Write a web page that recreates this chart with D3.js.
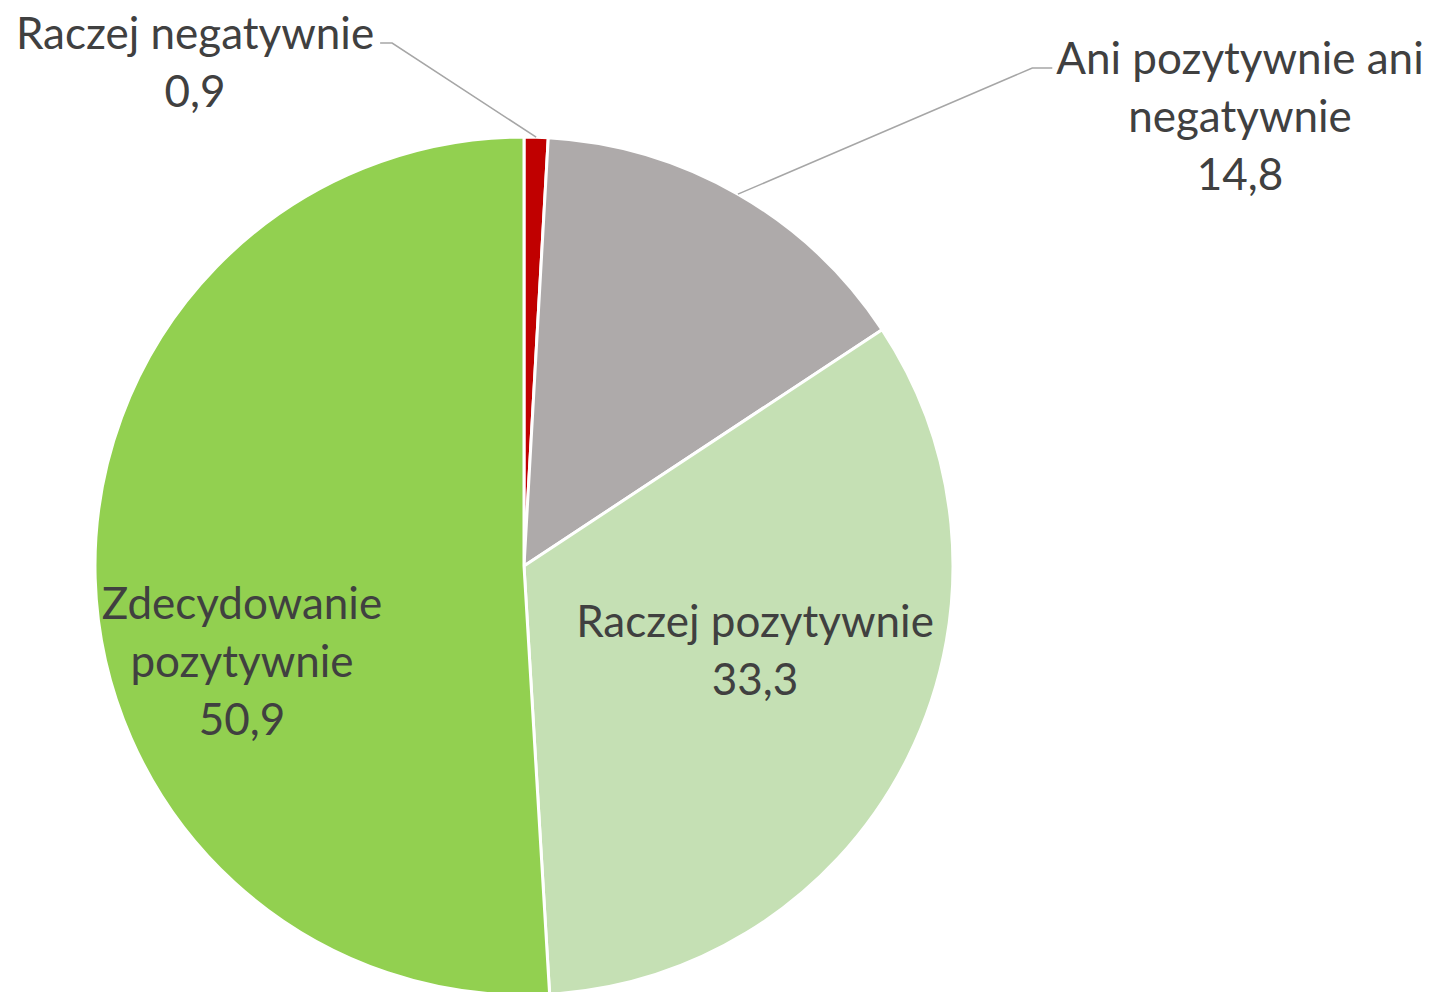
<!DOCTYPE html>
<html lang="pl">
<head>
    <meta charset="UTF-8">
    <title>Pie</title>
    <script src="https://d3js.org/d3.v7.min.js"></script>
    <style>
        body { margin: 0; background: #fff; overflow: hidden; }
        svg { display: block; }
        text { font-family: Lato, "Open Sans", sans-serif; fill: #404040; }
    </style>
</head>
<body>
    <script>
        // data
        const categories = ["Raczej negatywnie", "Ani pozytywnie ani negatywnie", "Raczej pozytywnie", "Zdecydowanie pozytywnie"];
        const values = [0.9, 14.8, 33.3, 50.9];
        const colors = ["#C00000", "#AEAAAA", "#C5E0B4", "#92D050"];
        // label lines as broken in the picture
        const labelLines = [
            ["Raczej negatywnie", "0,9"],
            ["Ani pozytywnie ani", "negatywnie", "14,8"],
            ["Raczej pozytywnie", "33,3"],
            ["Zdecydowanie", "pozytywnie", "50,9"]
        ];

        const width = 1429, height = 992;
        const cx = 524, cy = 566, radius = 429;
        const fontSize = 44, lineH = 58;

        // label centre (first line) and whether it gets a leader line
        const labelPos = [
            { x: 195, y: 32, leader: true, side: "right" },
            { x: 1240, y: 57, leader: true, side: "left" },
            { x: 755, y: 620, leader: false },
            { x: 242, y: 602, leader: false }
        ];

        const svg = d3.select("body").append("svg")
            .attr("width", width)
            .attr("height", height);

        const g = svg.append("g").attr("transform", `translate(${cx},${cy})`);

        const pie = d3.pie().sort(null).value(d => d);
        const arcs = pie(values);
        const arc = d3.arc().innerRadius(0).outerRadius(radius);

        g.selectAll("path.slice")
            .data(arcs)
            .enter().append("path")
            .attr("class", "slice")
            .attr("d", arc)
            .attr("fill", (d, i) => colors[i])
            .attr("stroke", "#fff")
            .attr("stroke-width", 3)
            .attr("stroke-linejoin", "round");

        // leader lines
        arcs.forEach((d, i) => {
            const p = labelPos[i];
            if (!p.leader) return;
            const mid = (d.startAngle + d.endAngle) / 2;
            const ex = cx + radius * Math.sin(mid);
            const ey = cy - radius * Math.cos(mid);
            const lbl = svg.append("text")
                .attr("x", p.x).attr("y", p.y)
                .attr("text-anchor", "middle")
                .attr("dominant-baseline", "central")
                .style("font-size", fontSize + "px")
                .text(labelLines[i][0]);
            const w = lbl.node().getComputedTextLength();
            lbl.remove();
            const yy = p.y + 11;
            let x0, x1;
            if (p.side === "right") { x0 = p.x + w / 2 + 6; x1 = x0 + 12; }
            else { x0 = p.x - w / 2 - 4; x1 = x0 - 20; }
            svg.append("path")
                .attr("d", `M${x0},${yy}L${x1},${yy}L${ex},${ey}`)
                .attr("fill", "none")
                .attr("stroke", "#A6A6A6")
                .attr("stroke-width", 1.5);
        });

        // labels
        labelLines.forEach((lines, i) => {
            const p = labelPos[i];
            const t = svg.append("text")
                .attr("text-anchor", "middle")
                .style("font-size", fontSize + "px");
            lines.forEach((s, k) => {
                t.append("tspan")
                    .attr("x", p.x)
                    .attr("y", p.y + k * lineH)
                    .attr("dominant-baseline", "central")
                    .text(s);
            });
        });
    </script>
</body>
</html>
